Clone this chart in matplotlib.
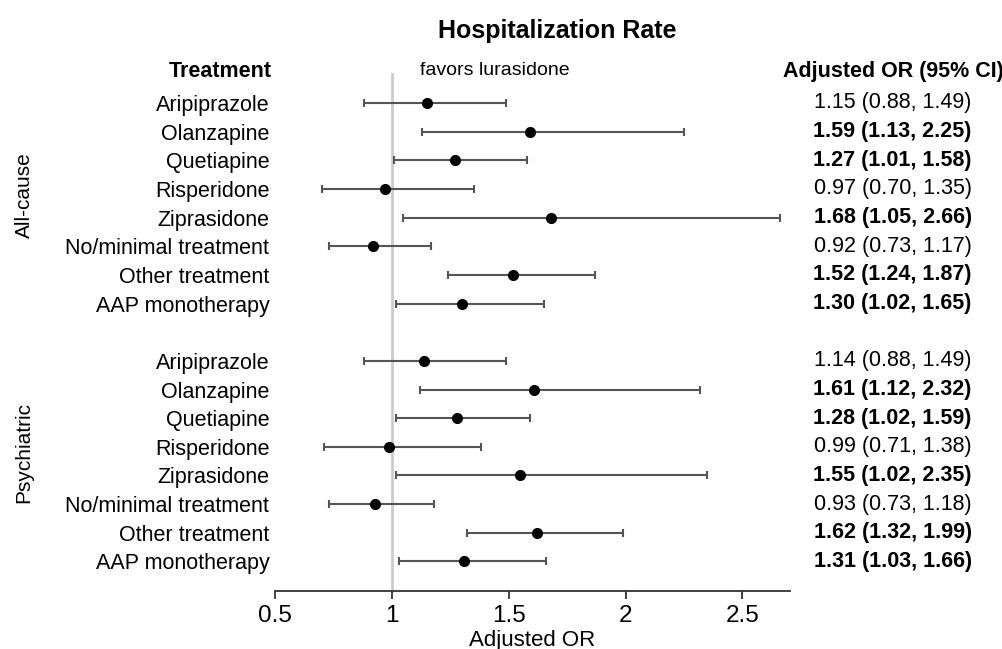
import matplotlib.pyplot as plt
from matplotlib.transforms import blended_transform_factory
plt.rcParams.update({'font.family': ['Liberation Sans', 'DejaVu Sans'], 'font.size': 15.5})

treatments = ['Aripiprazole', 'Olanzapine', 'Quetiapine', 'Risperidone', 'Ziprasidone',
              'No/minimal treatment', 'Other treatment', 'AAP monotherapy']
groups = ['All-cause', 'Psychiatric']

or_all = [1.15, 1.59, 1.27, 0.97, 1.68, 0.92, 1.52, 1.30]
lo_all = [0.88, 1.13, 1.01, 0.70, 1.05, 0.73, 1.24, 1.02]
hi_all = [1.49, 2.25, 1.58, 1.35, 2.66, 1.17, 1.87, 1.65]

or_psy = [1.14, 1.61, 1.28, 0.99, 1.55, 0.93, 1.62, 1.31]
lo_psy = [0.88, 1.12, 1.02, 0.71, 1.02, 0.73, 1.32, 1.03]
hi_psy = [1.49, 2.32, 1.59, 1.38, 2.35, 1.18, 1.99, 1.66]

xticks = [0.5, 1, 1.5, 2, 2.5]

fig = plt.figure(figsize=(10.03, 6.49), dpi=100)
ax = fig.add_axes([0.274, 0.0894, 0.514, 0.8226])
y_bottom, y_top = 17.03, -1.6

# reference line at OR = 1
ax.plot([1, 1], [y_bottom, -1.0], color='#cccccc', lw=2, zorder=0, clip_on=False)

trans = blended_transform_factory(fig.transFigure, ax.transData)
ytick_pos, ytick_lab = [], []
for g, (est, lo, hi) in enumerate([(or_all, lo_all, hi_all), (or_psy, lo_psy, hi_psy)]):
    ys = [g * 9 + i for i in range(len(treatments))]
    err = [[e - l for e, l in zip(est, lo)], [h - e for e, h in zip(est, hi)]]
    ax.errorbar(est, ys, xerr=err, fmt='o', color='black', ms=7,
                ecolor='#555555', elinewidth=1.5, capsize=3, capthick=1.5)
    ytick_pos += ys
    ytick_lab += treatments
    for y, e, l, h in zip(ys, est, lo, hi):
        bold = l > 1 or h < 1
        ax.text(0.89, y, f'{e:.2f} ({l:.2f}, {h:.2f})', transform=trans,
                ha='center', va='center',
                fontweight='bold' if bold else 'normal')
    ax.text(0.024, ys[0] + 3.2, groups[g], transform=trans, rotation=90,
            ha='center', va='center', fontsize=15)

ax.set_yticks(ytick_pos)
ax.set_yticklabels(ytick_lab)
ax.tick_params(axis='y', length=0, pad=4)
ax.set_ylim(y_bottom, y_top)
ax.set_xlim(0.5, 2.705)
ax.set_xticks(xticks)
ax.set_xticklabels(['0.5', '1', '1.5', '2', '2.5'])
ax.tick_params(axis='x', length=6, width=1.3, labelsize=17.5, color='#333333', pad=4)
ax.set_xlabel('Adjusted OR', fontsize=16, labelpad=2)
for s in ['top', 'right', 'left']:
    ax.spines[s].set_visible(False)
ax.spines['bottom'].set_linewidth(1.3)
ax.spines['bottom'].set_color('#333333')

ax.text(-0.005, -1.1, 'Treatment', transform=ax.get_yaxis_transform(), ha='right',
        va='center', fontweight='bold')
ax.text(0.891, -1.1, 'Adjusted OR (95% CI)', transform=trans, ha='center',
        va='center', fontweight='bold')
ax.text(1.12, -1.15, 'favors lurasidone', ha='left', va='center', fontsize=14)
fig.text(0.556, 0.953, 'Hospitalization Rate', ha='center', va='center',
         fontweight='bold', fontsize=18)

fig.savefig('out.png', dpi=100)
